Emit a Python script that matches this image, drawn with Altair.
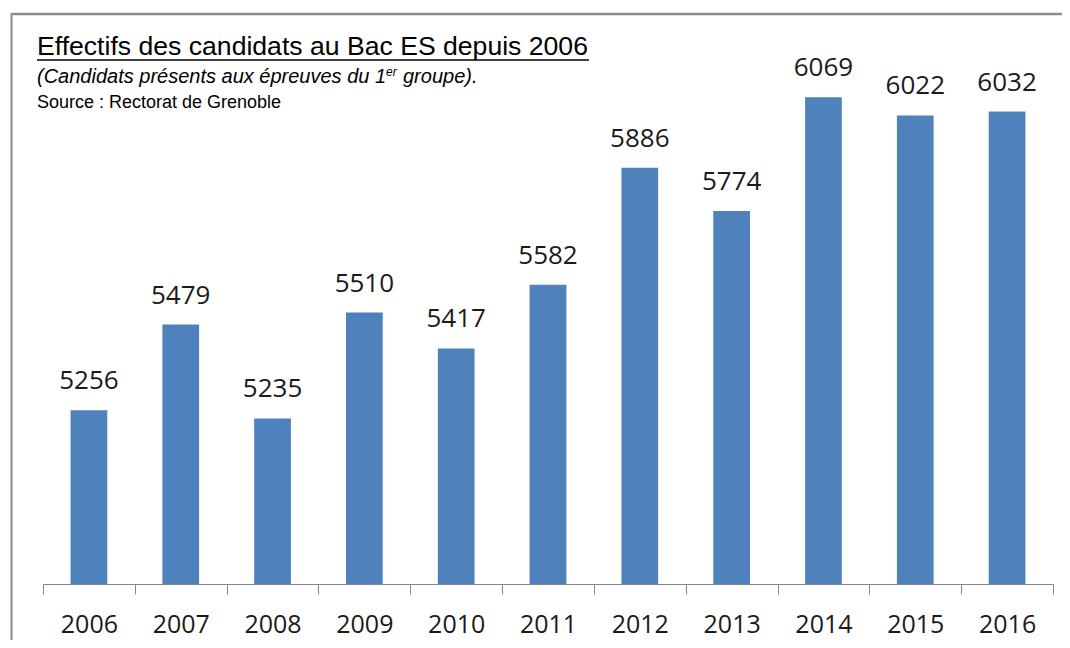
import altair as alt
import pandas as pd

years = ["2006", "2007", "2008", "2009", "2010", "2011", "2012", "2013", "2014", "2015", "2016"]
candidates = [5256, 5479, 5235, 5510, 5417, 5582, 5886, 5774, 6069, 6022, 6032]

title_text = ["Effectifs des candidats au Bac ES depuis 2006"]
subtitle_main = ["(Candidats présents aux épreuves du 1"]
subtitle_sup = ["er"]
subtitle_end = ["groupe)."]
source_text = ["Source : Rectorat de Grenoble"]

Y_MIN, Y_MAX = 4805, 6205
BAR_COLOR = "#4F81BD"
GRAY = "#8c8c8c"

df = pd.DataFrame({"year": years, "value": candidates})

x_enc = alt.X(
    "year:N",
    sort=years,
    scale=alt.Scale(paddingInner=0, paddingOuter=0),
    axis=alt.Axis(
        title=None,
        labelAngle=0,
        tickBand="extent",
        tickSize=10,
        tickColor="#868686",
        domainColor="#868686",
        labelFont="Open Sans",
        labelFontSize=25,
        labelColor="#1a1a1a",
        labelBaseline="alphabetic",
        labelPadding=38,
        grid=False,
    ),
)
y_enc = alt.Y(
    "value:Q",
    scale=alt.Scale(domain=[Y_MIN, Y_MAX], zero=False, nice=False),
    axis=None,
)

base = alt.Chart(df)
bars = base.mark_bar(width=alt.RelativeBandSize(0.4), color=BAR_COLOR).encode(
    x=x_enc, y=y_enc, y2=alt.datum(Y_MIN)
)
labels = base.mark_text(
    dy=-21, baseline="alphabetic", font="Open Sans", fontSize=26, color="#1a1a1a"
).encode(x=x_enc, y=y_enc, text="value:Q")

def note(txt, x, y, size, italic=False):
    return alt.Chart(pd.DataFrame({"t": txt})).mark_text(
        align="left",
        baseline="alphabetic",
        font="Liberation Sans",
        fontSize=size,
        fontStyle="italic" if italic else "normal",
        color="black",
    ).encode(x=alt.value(x), y=alt.value(y), text="t:N")

title = note(title_text, -6, 10, 26.6)
underline = alt.Chart(pd.DataFrame({"t": title_text})).mark_rule(
    color="black", strokeWidth=1.5
).encode(x=alt.value(-6), x2=alt.value(546), y=alt.value(15))
sub1 = note(subtitle_main, -6, 38, 20, italic=True)
sub2 = note(subtitle_sup, 343, 31, 12, italic=True)
sub3 = note(subtitle_end, 360, 38, 20, italic=True)
src = note(source_text, -6, 63, 18)

frame_top = alt.Chart(pd.DataFrame({"t": ["f"]})).mark_rule(
    color=GRAY, strokeWidth=2.5
).encode(x=alt.value(-32), x2=alt.value(1100), y=alt.value(-31))
frame_left = alt.Chart(pd.DataFrame({"t": ["f"]})).mark_rule(
    color=GRAY, strokeWidth=2
).encode(x=alt.value(-31.5), y=alt.value(-32), y2=alt.value(700))

chart = (
    alt.layer(bars, labels, title, underline, sub1, sub2, sub3, src, frame_top, frame_left)
    .properties(
        width=1010,
        height=539,
        autosize=alt.AutoSizeParams(type="none"),
        padding={"left": 35, "top": 37, "right": 9, "bottom": 56},
        background="white",
    )
    .configure_view(stroke=None)
)

chart.save("out.html", embed_options={"renderer": "svg", "actions": False})
